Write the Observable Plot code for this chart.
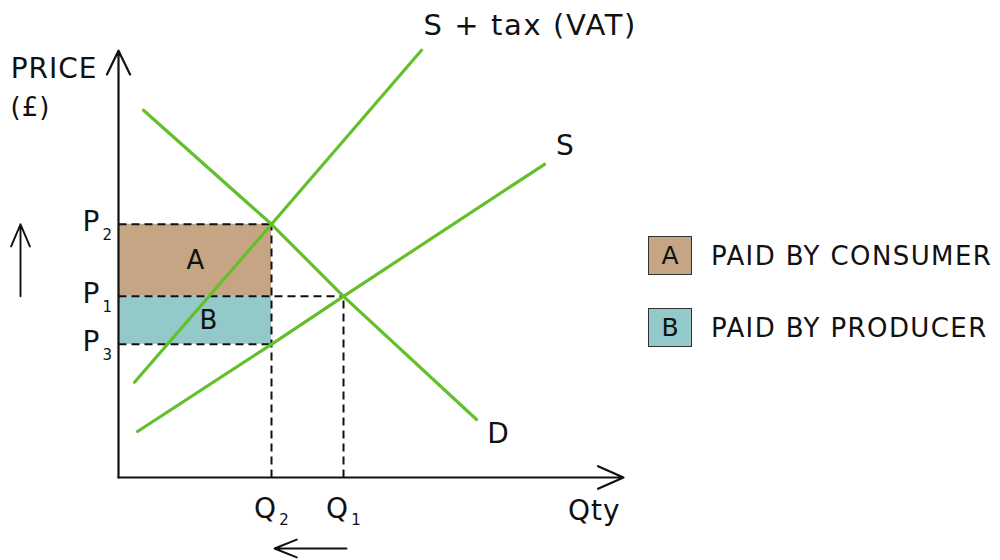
<!DOCTYPE html>
<html><head><meta charset="utf-8">
<script src="https://cdn.jsdelivr.net/npm/d3@7"></script>
<script src="https://cdn.jsdelivr.net/npm/@observablehq/plot@0.6"></script>
<style>
body{margin:0;background:#fff;}
#wrap{position:relative;width:1000px;height:560px;font-family:"DejaVu Sans",sans-serif;color:#111;}
.leg{position:absolute;left:648px;display:flex;align-items:center;}
.box{width:44px;height:39px;border:1.6px solid #333;box-sizing:border-box;display:flex;align-items:center;justify-content:center;font-size:25px;}
.lt{margin-left:19px;font-size:26px;letter-spacing:1.4px;}
.econ text{letter-spacing:1px;}
.econ text.wide{letter-spacing:1.6px;}
</style></head><body><div id="wrap"></div>
<script>
// ---- data (economic units: quantity on x, price on y) ----
const priceLevels = [
  {label: "P", sub: "2", p: 6.33},
  {label: "P", sub: "1", p: 4.53},
  {label: "P", sub: "3", p: 3.33}
];
const quantityLevels = [
  {label: "Q", sub: "2", q: 3.06},
  {label: "Q", sub: "1", q: 4.5}
];
const demand = [
  {q: 0.5, p: 9.18}, {q: 3.06, p: 6.33}, {q: 4.5, p: 4.53}, {q: 7.16, p: 1.45}
];
const supplyTax = [
  {q: 0.32, p: 2.38}, {q: 3.06, p: 6.33}, {q: 6.06, p: 10.68}
];
const supply = [
  {q: 0.38, p: 1.15}, {q: 3.06, p: 3.33}, {q: 4.5, p: 4.53}, {q: 8.52, p: 7.83}
];
const legendItems = [
  {key: "A", text: "PAID BY CONSUMER", color: "#c5a583"},
  {key: "B", text: "PAID BY PRODUCER", color: "#93c9c8"}
];
const axisEnds = {qMax: 10.1, pMax: 10.67};

// ---- derived ----
const P2 = priceLevels[0].p, P1 = priceLevels[1].p, P3 = priceLevels[2].p;
const Q2 = quantityLevels[0].q, Q1 = quantityLevels[1].q;
const green = "#63c02a";
const font = "DejaVu Sans";

const dashed = [
  {x1: 0, y1: P2, x2: Q2, y2: P2},
  {x1: 0, y1: P1, x2: Q1, y2: P1},
  {x1: 0, y1: P3, x2: Q2, y2: P3},
  {x1: Q2, y1: 0, x2: Q2, y2: P2},
  {x1: Q1, y1: 0, x2: Q1, y2: P1}
];
const areas = [
  {key: "A", q: Q2, lo: P1, hi: P2, color: legendItems[0].color},
  {key: "B", q: Q2, lo: P3, hi: P1, color: legendItems[1].color}
];

const plot = Plot.plot({
  width: 1000, height: 560, margin: 0, className: "econ",
  x: {domain: [0, 10], range: [118, 618], axis: null},
  y: {domain: [0, 10], range: [477, 77], axis: null},
  style: {fontFamily: font, background: "transparent", color: "#111"},
  marks: [
    Plot.rect([areas[0]], {x1: 0, x2: "q", y1: "lo", y2: "hi", fill: areas[0].color}),
    Plot.rect([areas[1]], {x1: 0, x2: "q", y1: "lo", y2: "hi", fill: areas[1].color}),
    Plot.text(areas, {x: d => d.q / 2 + (d.key === "B" ? 0.28 : 0.02), y: d => (d.lo + d.hi) / 2, text: "key", fontSize: 26, fill: "#111"}),
    Plot.link(dashed, {x1: "x1", y1: "y1", x2: "x2", y2: "y2", stroke: "#111", strokeWidth: 2, strokeDasharray: "8,5"}),
    Plot.line(demand, {x: "q", y: "p", stroke: green, strokeWidth: 3.2}),
    Plot.line(supplyTax, {x: "q", y: "p", stroke: green, strokeWidth: 3.2}),
    Plot.line(supply, {x: "q", y: "p", stroke: green, strokeWidth: 3.2}),
    // axes
    Plot.arrow([{x1: 0, y1: 0, x2: 0, y2: axisEnds.pMax}], {x1: "x1", y1: "y1", x2: "x2", y2: "y2", stroke: "#111", strokeWidth: 2.2, headLength: 18, headAngle: 52}),
    Plot.arrow([{x1: 0, y1: 0, x2: axisEnds.qMax, y2: 0}], {x1: "x1", y1: "y1", x2: "x2", y2: "y2", stroke: "#111", strokeWidth: 2.2, headLength: 19, headAngle: 48}),
    // movement arrows
    Plot.arrow([{x1: 0, y1: P1, x2: 0, y2: P2}], {x1: "x1", y1: "y1", x2: "x2", y2: "y2", dx: -98, stroke: "#111", strokeWidth: 1.9, headLength: 22, headAngle: 46}),
    Plot.arrow([{x1: Q1, y1: 0, x2: Q2, y2: 0}], {x1: "x1", y1: "y1", x2: "x2", y2: "y2", dx: 3, dy: 71, stroke: "#111", strokeWidth: 1.9, headLength: 22, headAngle: 44}),
    // price labels
    Plot.text(priceLevels, {x: 0, y: "p", text: "label", dx: -18, dy: -2, textAnchor: "end", fontSize: 28, fill: "#111"}),
    Plot.text(priceLevels, {x: 0, y: "p", text: "sub", dx: -16, dy: 11, textAnchor: "start", fontSize: 15, fill: "#111"}),
    // quantity labels
    Plot.text(quantityLevels, {x: "q", y: 0, text: "label", dx: -6, dy: 32, fontSize: 28, fill: "#111"}),
    Plot.text(quantityLevels, {x: "q", y: 0, text: "sub", dx: 13, dy: 43, fontSize: 15, fill: "#111"}),
    // axis titles
    Plot.text(["PRICE"], {x: 0, y: axisEnds.pMax, text: d => d, dx: -21, dy: 18, textAnchor: "end", fontSize: 28, fill: "#111"}),
    Plot.text(["(£)"], {x: 0, y: axisEnds.pMax, text: d => d, dx: -108, dy: 57, textAnchor: "start", fontSize: 26, fill: "#111"}),
    Plot.text(["Qty"], {x: axisEnds.qMax, y: 0, text: d => d, dx: -3, dy: 34, textAnchor: "end", fontSize: 28, fill: "#111"}),
    // curve labels
    Plot.text([demand[demand.length - 1]], {x: "q", y: "p", text: () => "D", dx: 22, dy: 15, fontSize: 28, fill: "#111"}),
    Plot.text([supply[supply.length - 1]], {x: "q", y: "p", text: () => "S", dx: 21, dy: -18, fontSize: 28, fill: "#111"}),
    Plot.text([supplyTax[supplyTax.length - 1]], {x: "q", y: "p", text: () => "S + tax (VAT)", dx: 2, dy: -25, textAnchor: "start", fontSize: 29, fill: "#111", className: "wide"})
  ]
});

const wrap = document.getElementById("wrap");
plot.style.position = "absolute";
plot.style.left = "0";
plot.style.top = "0";
wrap.appendChild(plot);
plot.querySelectorAll("g").forEach(g => {
  g.querySelectorAll("text").forEach(t => {
    if (t.textContent === "S + tax (VAT)") t.classList.add("wide");
  });
});

const tops = [236, 308];
legendItems.forEach((d, i) => {
  const row = document.createElement("div");
  row.className = "leg";
  row.style.top = tops[i] + "px";
  row.innerHTML = `<div class="box" style="background:${d.color}">${d.key}</div><div class="lt">${d.text}</div>`;
  wrap.appendChild(row);
});
</script>
</body></html>
